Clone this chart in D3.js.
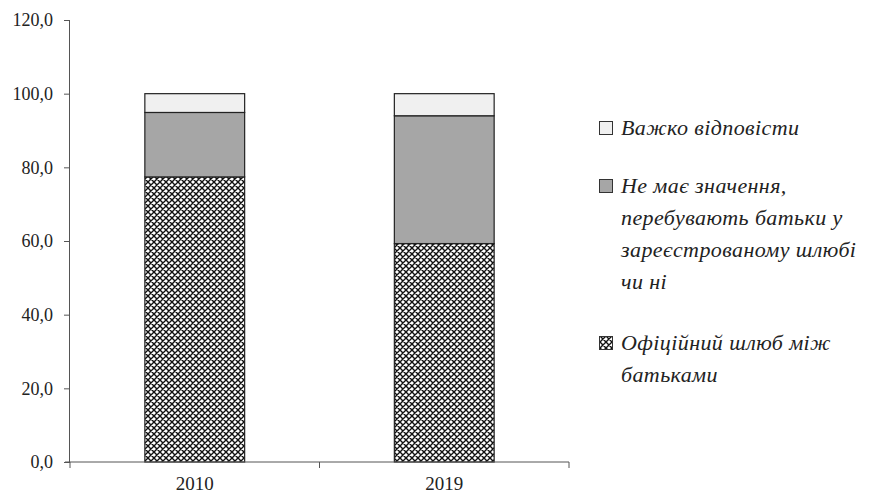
<!DOCTYPE html>
<html>
<head>
<meta charset="utf-8">
<script src="https://cdn.jsdelivr.net/npm/d3@7"></script>
<style>
  html, body { margin: 0; padding: 0; background: #fff; }
  svg { display: block; }
</style>
</head>
<body>
<svg id="chart" width="875" height="493"></svg>
<script>
// Survey years (categories)
const years = ["2010", "2019"];
// Shares, % (stacked bottom to top)
const officialMarriage = [77.4, 59.3];
const doesNotMatter = [17.5, 34.7];
const hardToSay = [5.1, 6.0];
// Axis ticks
const yTicks = [0, 20, 40, 60, 80, 100, 120];
// Legend entries, top to bottom, wrapped as printed
const legendLines = [
  ["Важко відповісти"],
  ["Не має значення,", "перебувають батьки у", "зареєстрованому шлюбі", "чи ні"],
  ["Офіційний шлюб між", "батьками"]
];

const FONT = '"Liberation Serif"';
const svg = d3.select("#chart");
const margin = { left: 70, top: 20, right: 306, bottom: 31 };
const width = 875 - margin.left - margin.right;
const height = 493 - margin.top - margin.bottom;

// Cross-hatch fill for the bottom segment
const defs = svg.append("defs");
const P = 6;
const pat = defs.append("pattern")
  .attr("id", "hatch")
  .attr("patternUnits", "userSpaceOnUse")
  .attr("width", P).attr("height", P);
pat.append("rect").attr("width", P).attr("height", P).attr("fill", "#fff");
pat.append("path")
  .attr("d", `M0,0L${P},${P}M${P},0L0,${P}M-1,${P-1}L1,${P+1}M${P-1},-1L${P+1},1M-1,1L1,-1M${P-1},${P+1}L${P+1},${P-1}`)
  .attr("stroke", "#111").attr("stroke-width", 1.4);

const fills = ["url(#hatch)", "#a6a6a6", "#f0f0f0"];

const g = svg.append("g").attr("transform", `translate(${margin.left},${margin.top})`);

const x = d3.scaleBand().domain(years).range([0, width]).paddingInner(0.6).paddingOuter(0.3);
const y = d3.scaleLinear().domain([0, 120]).range([height, 0]);

const table = years.map((yr, i) => ({
  year: yr,
  s0: officialMarriage[i],
  s1: doesNotMatter[i],
  s2: hardToSay[i]
}));
const layers = d3.stack().keys(["s0", "s1", "s2"])(table);

layers.forEach((layer, li) => {
  g.append("g").selectAll("rect")
    .data(layer)
    .join("rect")
    .attr("x", d => x(d.data.year))
    .attr("y", d => y(d[1]))
    .attr("width", x.bandwidth())
    .attr("height", d => y(d[0]) - y(d[1]))
    .attr("fill", fills[li])
    .attr("stroke", "#222")
    .attr("stroke-width", 1.2);
});

// Y axis
const yAxis = g.append("g")
  .call(d3.axisLeft(y).tickValues(yTicks).tickSize(6).tickPadding(11)
    .tickFormat(d => d3.format(".1f")(d).replace(".", ",")));
yAxis.attr("font-family", null).attr("font-size", null);
yAxis.select(".domain").attr("stroke", "#555").attr("d", `M-0.5,0V${height}`);
yAxis.selectAll(".tick line").attr("stroke", "#555");
yAxis.selectAll("text")
  .style("font-family", FONT)
  .style("font-size", "18px").attr("fill", "#222");

// X axis with boundary ticks between categories
const xAxisG = g.append("g").attr("transform", `translate(0,${height})`);
xAxisG.append("line").attr("x1", -5).attr("x2", width).attr("stroke", "#555");
const bounds = [0, width / 2, width];
xAxisG.selectAll("line.b").data(bounds).join("line")
  .attr("class", "b")
  .attr("x1", d => d).attr("x2", d => d)
  .attr("y1", 0).attr("y2", 6).attr("stroke", "#555");
xAxisG.selectAll("text").data(years).join("text")
  .attr("x", d => x(d) + x.bandwidth() / 2)
  .attr("y", 28)
  .attr("text-anchor", "middle")
  .style("font-family", FONT)
  .style("font-size", "19px").attr("fill", "#222")
  .text(d => d);

// Legend
const legendFills = [fills[2], fills[1], fills[0]];
const legendBase = [135, 193, 350];
const leg = svg.append("g");
legendLines.forEach((lines, i) => {
  leg.append("rect")
    .attr("x", 599.5).attr("y", legendBase[i] - 13.5)
    .attr("width", 13).attr("height", 13)
    .attr("fill", legendFills[i]).attr("stroke", "#333").attr("stroke-width", 1);
  const t = leg.append("text")
    .style("font-family", FONT)
    .style("font-style", "italic")
    .style("font-size", "22px")
    .style("letter-spacing", "0.4px")
    .attr("fill", "#222");
  lines.forEach((ln, j) => {
    t.append("tspan").attr("x", 621).attr("y", legendBase[i] + j * 32).text(ln);
  });
});
</script>
</body>
</html>
